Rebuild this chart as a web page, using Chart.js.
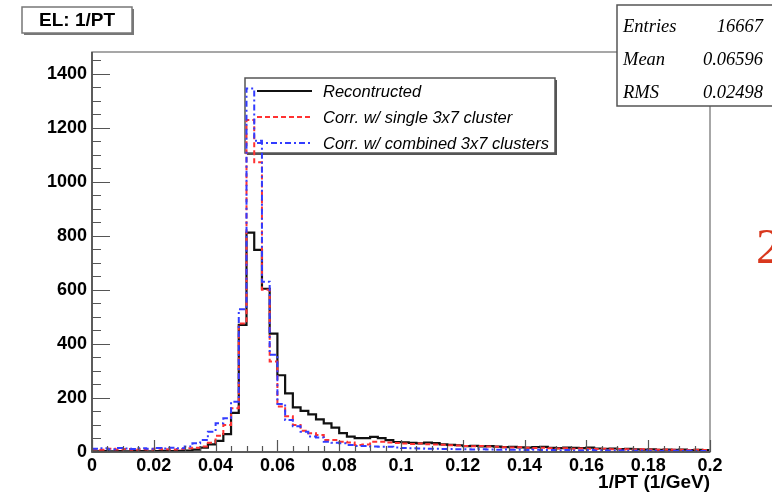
<!DOCTYPE html>
<html>
<head>
<meta charset="utf-8">
<title>EL: 1/PT</title>
<script src="https://cdn.jsdelivr.net/npm/chart.js@4.4.1/dist/chart.umd.min.js"></script>
<style>
  html, body { margin: 0; padding: 0; background: #fff; }
  #wrap { position: relative; width: 772px; height: 494px; overflow: hidden; }
</style>
</head>
<body>
<div id="wrap"><canvas id="hist" width="772" height="494"></canvas></div>
<script>
/* 1/PT histogram: reconstructed vs. cluster-corrected electrons */

// binning: 80 bins of 0.0025 from 0 to 0.2
const BIN_LO    = 0;
const BIN_WIDTH = 0.0025;

const RECO = [
  2, 3, 2, 3, 2, 3, 3, 2, 3, 4, 3, 4, 5, 9,
  16, 28, 41, 66, 145, 470, 812, 748, 604, 438, 284, 217, 165, 152,
  139, 121, 106, 90, 70, 57, 51, 51, 56, 51, 44, 37, 36,
  34, 32, 35, 33, 28, 26, 25, 22, 23, 21, 22, 20, 18, 19, 17, 16, 18, 19, 15, 14,
  16, 15, 14, 16, 13, 12, 13, 11, 12, 10, 9, 10, 8, 9, 8, 9, 7, 8, 7,
];
const CORR_SINGLE = [
  10, 8, 12, 9, 11, 8, 10, 9, 12, 10, 9, 11, 14, 16,
  20, 34, 60, 100, 162, 475, 1228, 1072, 600, 335, 168, 132, 100, 79,
  69, 63, 44, 44, 38, 35, 26, 28, 38, 38, 35, 33, 31,
  30, 31, 29, 28, 27, 25, 24, 22, 21, 22, 20, 19, 18, 17, 18, 16, 15, 16, 14, 13,
  14, 12, 13, 12, 11, 12, 10, 11, 10, 9, 10, 9, 8, 9, 8, 8, 7, 8, 7,
];
const CORR_COMBINED = [
  12, 14, 10, 15, 13, 11, 14, 12, 15, 13, 16, 14, 20, 32,
  44, 75, 106, 125, 186, 528, 1345, 1152, 630, 360, 178, 118, 95, 75,
  57, 54, 38, 34, 32, 26, 22, 22, 20, 19, 19, 17, 15,
  14, 13, 12, 12, 11, 11, 10, 10, 9, 10, 9, 8, 9, 8, 8, 7, 8, 7, 7, 6,
  7, 6, 6, 7, 5, 6, 5, 6, 5, 5, 6, 5, 4, 5, 5, 4, 5, 4, 4,
];

const SERIES_LABELS = ['Recontructed', 'Corr. w/ single 3x7 cluster', 'Corr. w/ combined 3x7 clusters'];

const X_TICKS  = [0, 0.02, 0.04, 0.06, 0.08, 0.1, 0.12, 0.14, 0.16, 0.18, 0.2];
const X_LABELS = ['0', '0.02', '0.04', '0.06', '0.08', '0.1', '0.12', '0.14', '0.16', '0.18', '0.2'];
const Y_TICKS  = [0, 200, 400, 600, 800, 1000, 1200, 1400];

const STAT_NAMES  = ['Entries', 'Mean', 'RMS'];
const STAT_VALUES = ['16667', '0.06596', '0.02498'];

const SANS  = '"Liberation Sans", Arial, Helvetica, sans-serif';
const SERIF = '"Liberation Serif", "Times New Roman", serif';

// bin contents -> step points at the lower bin edges (+ closing point)
function toSteps(values) {
  const pts = values.map((v, i) => ({ x: BIN_LO + i * BIN_WIDTH, y: v }));
  pts.push({ x: BIN_LO + values.length * BIN_WIDTH, y: values[values.length - 1] });
  return pts;
}

// ── frame + inward ticks, ROOT style ───────────────────────────
const framePlugin = {
  id: 'frame',
  afterDatasetsDraw(chart) {
    const { ctx, chartArea: a, scales: { x, y } } = chart;
    ctx.save();
    ctx.strokeStyle = '#8a8a8a';
    ctx.lineWidth = 1.5;
    ctx.strokeRect(a.left, a.top, a.right - a.left, a.bottom - a.top);

    ctx.strokeStyle = '#444';
    ctx.lineWidth = 1.5;
    ctx.beginPath();
    ctx.moveTo(a.left, a.top); ctx.lineTo(a.left, a.bottom); ctx.lineTo(a.right, a.bottom);
    ctx.stroke();

    ctx.lineWidth = 1.2;
    ctx.strokeStyle = '#555';
    ctx.beginPath();
    // y: major every 200, minor every 50
    for (let v = 0; v <= y.max; v += 50) {
      const py = Math.round(y.getPixelForValue(v)) + 0.5;
      const len = v % 200 === 0 ? 18 : 9;
      ctx.moveTo(a.left, py); ctx.lineTo(a.left + len, py);
    }
    // x: major every 0.02, minor every 0.005
    for (let k = 0; k <= 40; k++) {
      const px = Math.round(x.getPixelForValue(k * 0.005)) + 0.5;
      const len = k % 4 === 0 ? 12 : 6;
      ctx.moveTo(px, a.bottom); ctx.lineTo(px, a.bottom - len);
    }
    ctx.stroke();
    ctx.restore();
  },
};

// ── legend box (drawn under the histograms) ───────────────────
const legendBoxPlugin = {
  id: 'legendBox',
  beforeDatasetsDraw(chart) {
    const { ctx } = chart;
    const bx = 245, by = 78, bw = 310, bh = 75;
    ctx.save();
    ctx.fillStyle = '#fff';
    ctx.fillRect(bx, by, bw, bh);
    ctx.strokeStyle = '#555';
    ctx.lineWidth = 1.5;
    ctx.strokeRect(bx, by, bw, bh);
    ctx.lineWidth = 2;
    ctx.beginPath();
    ctx.moveTo(bx + bw + 1, by + 2); ctx.lineTo(bx + bw + 1, by + bh + 1); ctx.lineTo(bx + 2, by + bh + 1);
    ctx.stroke();

    const rows = [91, 117, 143];
    chart.data.datasets.forEach((ds, i) => {
      ctx.strokeStyle = ds.borderColor;
      ctx.lineWidth = ds.borderWidth;
      ctx.setLineDash(ds.borderDash || []);
      ctx.beginPath();
      ctx.moveTo(257, rows[i]); ctx.lineTo(312, rows[i]);
      ctx.stroke();
      ctx.setLineDash([]);
      ctx.fillStyle = '#000';
      ctx.font = 'italic 16.5px ' + SANS;
      ctx.textBaseline = 'middle';
      ctx.textAlign = 'left';
      ctx.fillText(SERIES_LABELS[i], 323, rows[i] + 1);
    });
    ctx.restore();
  },
};

// ── title pave + stats box ─────────────────────────────────────
const pavePlugin = {
  id: 'paves',
  afterDraw(chart) {
    const { ctx } = chart;
    ctx.save();
    // title
    ctx.fillStyle = '#fff';
    ctx.fillRect(22, 7, 110, 26);
    ctx.strokeStyle = '#777';
    ctx.lineWidth = 1.5;
    ctx.strokeRect(22, 7, 110, 26);
    ctx.lineWidth = 2;
    ctx.beginPath();
    ctx.moveTo(133, 9); ctx.lineTo(133, 34); ctx.lineTo(24, 34);
    ctx.stroke();
    ctx.fillStyle = '#000';
    ctx.font = 'bold 19px ' + SANS;
    ctx.textAlign = 'center';
    ctx.textBaseline = 'middle';
    ctx.fillText('EL: 1/PT', 77, 21);

    // stats
    ctx.fillStyle = '#fff';
    ctx.fillRect(617, 5, 160, 101);
    ctx.strokeStyle = '#555';
    ctx.lineWidth = 1.5;
    ctx.strokeRect(617, 5, 160, 101);
    ctx.fillStyle = '#000';
    ctx.font = 'italic 18.5px ' + SERIF;
    const rows = [27, 60, 93];
    STAT_NAMES.forEach((name, i) => {
      ctx.textAlign = 'left';
      ctx.fillText(name, 623, rows[i]);
      ctx.textAlign = 'right';
      ctx.fillText(STAT_VALUES[i], 763, rows[i]);
    });

    // slide page number peeking in at the right edge
    ctx.fillStyle = '#d9381e';
    ctx.font = '50px ' + SERIF;
    ctx.textAlign = 'left';
    ctx.textBaseline = 'alphabetic';
    ctx.fillText('2', 756, 263);
    ctx.restore();
  },
};

new Chart(document.getElementById('hist'), {
  type: 'line',
  data: {
    datasets: [
      {
        label: SERIES_LABELS[0],
        data: toSteps(RECO),
        borderColor: '#111',
        borderWidth: 2.2,
        order: 3,
      },
      {
        label: SERIES_LABELS[1],
        data: toSteps(CORR_SINGLE),
        borderColor: 'rgb(255,50,50)',
        borderWidth: 2,
        borderDash: [5, 3],
        order: 2,
      },
      {
        label: SERIES_LABELS[2],
        data: toSteps(CORR_COMBINED),
        borderColor: 'rgb(50,60,255)',
        borderWidth: 2,
        borderDash: [6, 3, 2, 3],
        order: 1,
      },
    ],
  },
  options: {
    responsive: false,
    animation: false,
    devicePixelRatio: 1,
    parsing: false,
    layout: { padding: { left: 0, right: 62, top: 52, bottom: 0 } },
    elements: {
      line: { stepped: 'before', fill: false, tension: 0, borderCapStyle: 'butt', borderJoinStyle: 'miter' },
      point: { radius: 0, hoverRadius: 0 },
    },
    plugins: {
      legend: { display: false },
      tooltip: { enabled: false },
      title: { display: false },
    },
    scales: {
      x: {
        type: 'linear',
        min: 0,
        max: 0.2,
        grid: { display: false, drawTicks: false },
        border: { display: false },
        afterBuildTicks: s => { s.ticks = X_TICKS.map(v => ({ value: v })); },
        afterFit: s => { s.height = 42; },
        ticks: {
          autoSkip: false,
          maxRotation: 0,
          padding: 3,
          color: '#000',
          font: { family: SANS, size: 18, weight: 'bold' },
          callback: (v, i) => X_LABELS[i],
        },
        title: {
          display: true,
          text: '1/PT (1/GeV)',
          align: 'end',
          color: '#000',
          font: { family: SANS, size: 19, weight: 'bold', lineHeight: 1.1 },
          padding: { top: 0, bottom: 1 },
        },
      },
      y: {
        type: 'linear',
        min: 0,
        max: 1480,
        grid: { display: false, drawTicks: false },
        border: { display: false },
        afterBuildTicks: s => { s.ticks = Y_TICKS.map(v => ({ value: v })); },
        afterFit: s => { s.width = 92; },
        ticks: {
          padding: 5,
          color: '#000',
          font: { family: SANS, size: 18, weight: 'bold' },
          callback: v => String(v),
        },
      },
    },
  },
  plugins: [legendBoxPlugin, framePlugin, pavePlugin],
});
</script>
</body>
</html>
